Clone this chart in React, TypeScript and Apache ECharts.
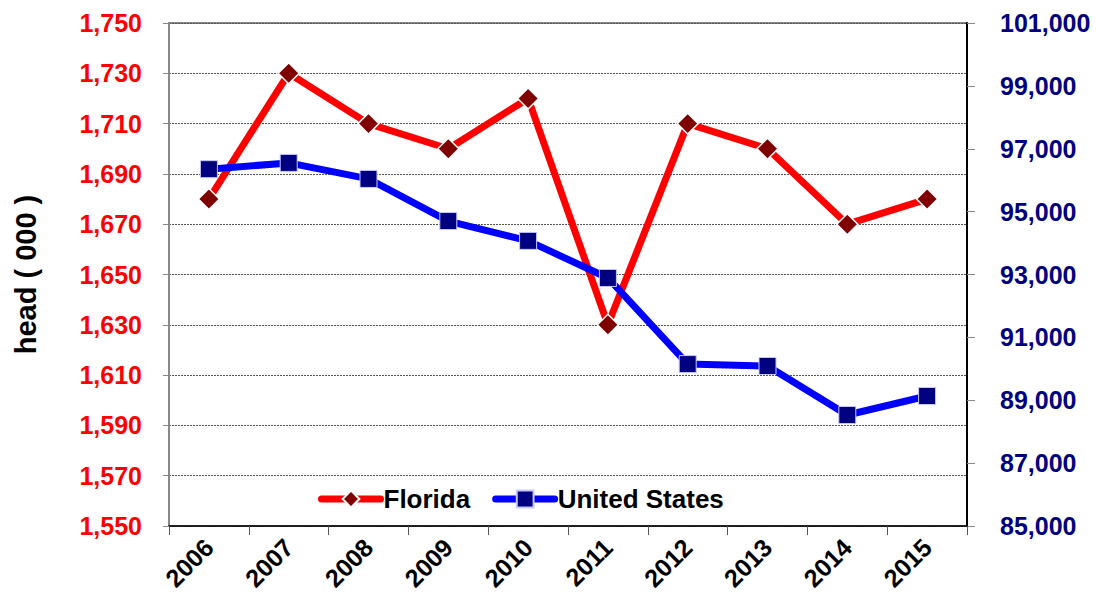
import React, { useEffect, useRef } from "react";
import * as echarts from "echarts";

const years = ["2006", "2007", "2008", "2009", "2010", "2011", "2012", "2013", "2014", "2015"];
const florida = [1680, 1730, 1710, 1700, 1720, 1630, 1710, 1700, 1670, 1680];
const unitedStates = [96350, 96550, 96040, 94700, 94070, 92890, 90150, 90090, 88530, 89135];

const font = "'Liberation Sans', Arial, sans-serif";
const fmt = (v: number) => v.toLocaleString("en-US");

export default function App() {
  const ref = useRef<HTMLDivElement>(null);
  useEffect(() => {
    if (!ref.current) return;
    const chart = echarts.init(ref.current, null, { renderer: "svg" });
    chart.setOption({
      animation: false,
      backgroundColor: "#ffffff",
      textStyle: { fontFamily: font },
      grid: {
        left: 169,
        right: 129,
        top: 23,
        bottom: 75,
        show: true,
        borderColor: "#888888",
        borderWidth: 2,
        backgroundColor: "#ffffff",
      },
      legend: {
        data: ["Florida", "United States"],
        left: 318,
        top: 486,
        padding: 0,
        itemWidth: 59,
        itemHeight: 21,
        itemGap: 22,
        lineStyle: { width: 7, cap: "round" },
        textStyle: {
          fontFamily: font,
          fontWeight: "bold",
          fontSize: 26,
          color: "#000000",
          padding: [0, 0, 0, -2],
          lineHeight: 26,
        },
      },
      xAxis: {
        type: "category",
        data: years,
        boundaryGap: true,
        axisLine: { show: true, lineStyle: { color: "#000000", width: 1.5 } },
        axisTick: { show: true, inside: false, length: 9, lineStyle: { color: "#555555" } },
        axisLabel: {
          rotate: 45,
          margin: 17,
          fontFamily: font,
          fontWeight: "bold",
          fontSize: 25,
          color: "#000000",
        },
      },
      yAxis: [
        {
          type: "value",
          min: 1550,
          max: 1750,
          interval: 20,
          name: "head ( 000 )",
          nameLocation: "middle",
          nameGap: 129,
          nameRotate: 90,
          nameTextStyle: { fontFamily: font, fontWeight: "bold", fontSize: 29, color: "#000000" },
          axisLine: { show: true, lineStyle: { color: "#888888", width: 2 } },
          axisTick: { show: true, length: 6, lineStyle: { color: "#888888" } },
          axisLabel: {
            margin: 27,
            fontFamily: font,
            fontWeight: "bold",
            fontSize: 25,
            color: "#ff0000",
            formatter: (v: number) => fmt(v),
          },
          splitLine: { show: true, lineStyle: { color: "#555555", type: [2, 1], width: 1 } },
        },
        {
          type: "value",
          min: 85000,
          max: 101000,
          interval: 2000,
          position: "right",
          axisLine: { show: true, lineStyle: { color: "#000000", width: 2 } },
          axisTick: { show: true, length: 8, lineStyle: { color: "#888888" } },
          axisLabel: {
            margin: 33,
            fontFamily: font,
            fontWeight: "bold",
            fontSize: 25,
            color: "#000080",
            formatter: (v: number) => fmt(v),
          },
          splitLine: { show: false },
        },
      ],
      series: [
        {
          name: "Florida",
          type: "line",
          yAxisIndex: 0,
          data: florida,
          symbol: "diamond",
          symbolSize: 21,
          lineStyle: { color: "#ff0000", width: 7 },
          itemStyle: { color: "#800000", borderColor: "#ffffff", borderWidth: 1.5 },
          z: 3,
        },
        {
          name: "United States",
          type: "line",
          yAxisIndex: 1,
          data: unitedStates,
          symbol: "rect",
          symbolSize: 17,
          lineStyle: { color: "#0000ff", width: 7 },
          itemStyle: { color: "#000080", borderColor: "#c8c8ff", borderWidth: 1 },
          z: 4,
        },
      ],
    });
    return () => chart.dispose();
  }, []);
  return (
    <div
      ref={ref}
      style={{ position: "fixed", left: 0, top: 0, width: 1096, height: 601 }}
    />
  );
}
